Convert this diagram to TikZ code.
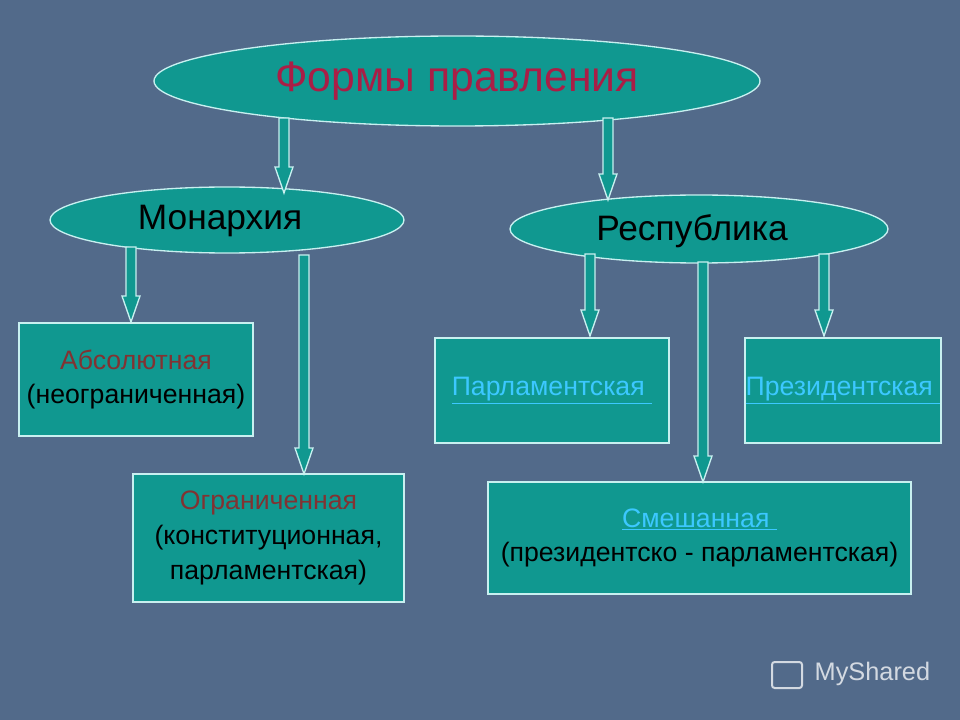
\documentclass[tikz,border=0pt]{standalone}
\usepackage{fontspec}
\setmainfont{Liberation Sans}
\usetikzlibrary{shapes.geometric}
\definecolor{bg}{RGB}{82,106,138}
\definecolor{teal1}{RGB}{16,152,144}
\definecolor{edge}{RGB}{200,240,240}
\definecolor{titlec}{RGB}{170,30,70}
\definecolor{dred}{RGB}{130,50,50}
\definecolor{linkc}{RGB}{60,200,255}
\tikzset{
  oval/.style={ellipse,fill=teal1,draw=edge,line width=1pt,inner sep=0pt},
  box/.style={rectangle,fill=teal1,draw=edge,line width=1pt,align=center,font=\fontsize{20}{26}\selectfont},
  barrow/.style={fill=teal1,draw=edge,line width=1pt}
}
\newcommand\blkarrow[3]{\draw[barrow] ({#1-5},#2)--({#1+5},#2)--({#1+5},{#3-26})--({#1+9},{#3-26})--(#1,#3)--({#1-9},{#3-26})--({#1-5},{#3-26})--cycle;}
\newcommand\lk[1]{\textcolor{linkc}{\underline{#1}}}
\begin{document}
\begin{tikzpicture}[x=0.75pt,y=-0.75pt]
\fill[bg] (0,0) rectangle (960,720);
\node[oval,minimum width=454.5pt,minimum height=67.5pt] (top) at (457,81) {};
\node[font=\fontsize{32}{36}\selectfont,text=titlec] (toptxt) at (457,81) {Формы правления};
\node[oval,minimum width=265.5pt,minimum height=49.5pt] (mon) at (227,220) {};
\node[font=\fontsize{26.5}{30}\selectfont] (montxt) at (220,221) {Монархия};
\node[oval,minimum width=283.5pt,minimum height=51pt] (rep) at (699,229) {};
\node[font=\fontsize{26.5}{30}\selectfont] (reptxt) at (692,231) {Республика};
\node[box,minimum width=175.5pt,minimum height=84.75pt] (abs) at (136,379.5) {\textcolor{dred}{Абсолютная}\\(неограниченная)};
\node[box,minimum width=203.25pt,minimum height=96pt] (lim) at (268.5,538) {\textcolor{dred}{Ограниченная}\\(конституционная,\\парламентская)};
\node[box,minimum width=175.5pt,minimum height=78.75pt] (par) at (552,390.5) {\lk{Парламентская }};
\node[box,minimum width=147pt,minimum height=78.75pt,inner xsep=0pt] (pre) at (843,390.5) {\lk{Президентская }};
\node[box,minimum width=317.25pt,minimum height=84pt] (mix) at (699.5,538) {\lk{Смешанная }\\(президентско - парламентская)};
\blkarrow{284}{118}{193}
\blkarrow{608}{118}{200}
\blkarrow{131}{247}{322}
\blkarrow{304}{255}{474}
\blkarrow{590}{254}{336}
\blkarrow{703}{262}{482}
\blkarrow{824}{254}{336}
\node[text=white,opacity=0.75,font=\fontsize{19}{22}\selectfont,anchor=west] (wm) at (810,674) {MyShared};
\draw[white,opacity=0.75,line width=1.5pt,rounded corners=2pt] (772,662) rectangle (802,688);
\end{tikzpicture}
\end{document}
